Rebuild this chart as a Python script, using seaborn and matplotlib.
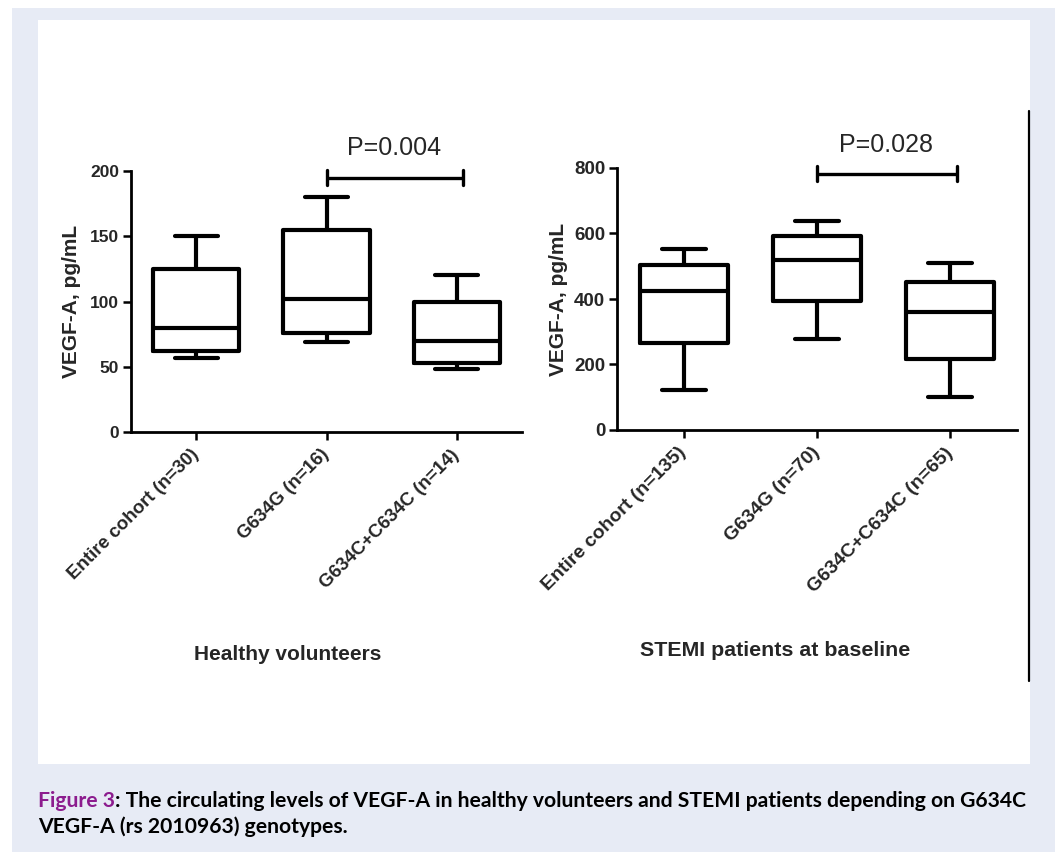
import matplotlib
matplotlib.use("Agg")
import matplotlib.pyplot as plt
import seaborn as sns
import pandas as pd
from matplotlib.patches import Rectangle
from matplotlib.lines import Line2D

# ---------------- data ----------------
hv_groups = ["Entire cohort (n=30)", "G634G (n=16)", "G634C+C634C (n=14)"]
hv_min = [57, 69, 48]
hv_q1 = [62, 76, 53]
hv_med = [80, 102, 70]
hv_q3 = [125, 155, 100]
hv_max = [150, 180, 120]
hv_ticks = [0, 50, 100, 150, 200]

st_groups = ["Entire cohort (n=135)", "G634G (n=70)", "G634C+C634C (n=65)"]
st_min = [122, 278, 100]
st_q1 = [267, 394, 216]
st_med = [423, 519, 359]
st_q3 = [503, 591, 451]
st_max = [554, 639, 510]
st_ticks = [0, 200, 400, 600, 800]

panel_titles = ["Healthy volunteers", "STEMI patients at baseline"]
p_texts = ["P=0.004", "P=0.028"]
p_levels = [195, 783]
y_label = "VEGF-A, pg/mL"
caption_fig = "Figure 3"
caption_rest1 = ": The circulating levels of VEGF-A in healthy volunteers and STEMI patients depending on G634C"
caption_line2 = "VEGF-A (rs 2010963) genotypes."


def summary_frame(groups, mn, q1, med, q3, mx):
    rows = []
    for g, a, b, c, d, e in zip(groups, mn, q1, med, q3, mx):
        for v in (a, b, c, d, e):
            rows.append({"group": g, "value": v})
    return pd.DataFrame(rows)


hv_df = summary_frame(hv_groups, hv_min, hv_q1, hv_med, hv_q3, hv_max)
st_df = summary_frame(st_groups, st_min, st_q1, st_med, st_q3, st_max)

# ---------------- figure ----------------
sns.set_theme(style="ticks")
plt.rcParams["font.family"] = ["Liberation Sans", "DejaVu Sans"]

W, H = 1055, 852
fig = plt.figure(figsize=(W / 100, H / 100), dpi=100)
fig.patch.set_facecolor("white")

bg = "#e7ebf5"
fig.add_artist(Rectangle((12 / W, 0), 1 - 12 / W, 1 - 8 / H, transform=fig.transFigure,
                         facecolor=bg, edgecolor="none", zorder=-10))
fig.add_artist(Rectangle((38 / W, 1 - 764 / H), (1030 - 38) / W, (764 - 20) / H,
                         transform=fig.transFigure, facecolor="white", edgecolor="none", zorder=-9))
fig.add_artist(Line2D([1029 / W, 1029 / W], [1 - 111 / H, 1 - 681 / H], transform=fig.transFigure,
                      color="black", lw=1.6))

ax1 = fig.add_axes([131 / W, 1 - 432 / H, 391 / W, 261 / H])
ax2 = fig.add_axes([617 / W, 1 - 430 / H, 400 / W, 262 / H])

specs = [
    (ax1, hv_df, hv_groups, hv_ticks, 12.5, 13.5, -0.153, 6, 218),
    (ax2, st_df, st_groups, st_ticks, 13.5, 14, -0.1475, 24, 871),
]

for i, (ax, df, groups, ticks, tfs, xfs, ylx, capd, ptext_y) in enumerate(specs):
    ax.set_facecolor("none")
    sns.boxplot(data=df, x="group", y="value", order=groups, ax=ax,
                whis=(0, 100), width=0.66, fill=False, color="black",
                linecolor="black", linewidth=3.0, showfliers=False)
    ax.set_xlim(-0.5, 2.5)
    ax.set_ylim(ticks[0], ticks[-1])
    ax.set_yticks(ticks)
    ax.set_xlabel("")
    ax.set_ylabel(y_label, fontsize=15, fontweight="bold", va="center")
    ax.yaxis.set_label_coords(ylx, 0.5)
    for s in ("top", "right"):
        ax.spines[s].set_visible(False)
    for s in ("left", "bottom"):
        ax.spines[s].set_linewidth(2.0)
        ax.spines[s].set_color("black")
    ax.tick_params(axis="both", direction="out", length=5.5, width=1.8, color="black")
    ax.tick_params(axis="y", labelsize=tfs, pad=3)
    ax.tick_params(axis="x", labelsize=xfs, pad=9)
    for lab in ax.get_yticklabels():
        lab.set_fontweight("bold")
    ax.set_xticks(range(len(groups)))
    ax.set_xticklabels(groups, rotation=45, ha="right", va="center",
                       rotation_mode="anchor", fontweight="bold")
    # significance bracket between genotype groups
    y = p_levels[i]
    ax.plot([1, 2.05], [y, y], color="black", lw=2.4, clip_on=False, solid_capstyle="butt")
    for xx in (1, 2.05):
        ax.plot([xx, xx], [y - capd, y + capd], color="black", lw=2.4, clip_on=False)
    ax.text(1.52, ptext_y, p_texts[i], ha="center", va="center", fontsize=18, clip_on=False)

fig.text(288 / W, 1 - 655 / H, panel_titles[0], ha="center", va="center",
         fontsize=15, fontweight="bold")
fig.text(775 / W, 1 - 650 / H, panel_titles[1], ha="center", va="center",
         fontsize=15.4, fontweight="bold")

# ---------------- caption ----------------
purple = "#8c1c8e"
cap_family = ["Lato", "DejaVu Sans"]


def draw_caption(fs):
    t1 = fig.text(38 / W, 1 - 807 / H, caption_fig, color=purple, fontsize=fs,
                  family=cap_family, fontweight="bold", va="baseline")
    fig.canvas.draw()
    r = fig.canvas.get_renderer()
    b1 = t1.get_window_extent(r)
    t2 = fig.text(b1.x1 / W, 1 - 807 / H, caption_rest1, color="black", fontsize=fs,
                  family=cap_family, fontweight="bold", va="baseline")
    t3 = fig.text(38 / W, 1 - 833 / H, caption_line2, color="black", fontsize=fs,
                  family=cap_family, fontweight="bold", va="baseline")
    fig.canvas.draw()
    b2 = t2.get_window_extent(r)
    return [t1, t2, t3], b2.x1


texts, right = draw_caption(13)
scale = (1028 - 38) / (right - 38)
for t in texts:
    t.remove()
draw_caption(13 * scale)

fig.savefig("out.png", dpi=100, facecolor=fig.get_facecolor())
